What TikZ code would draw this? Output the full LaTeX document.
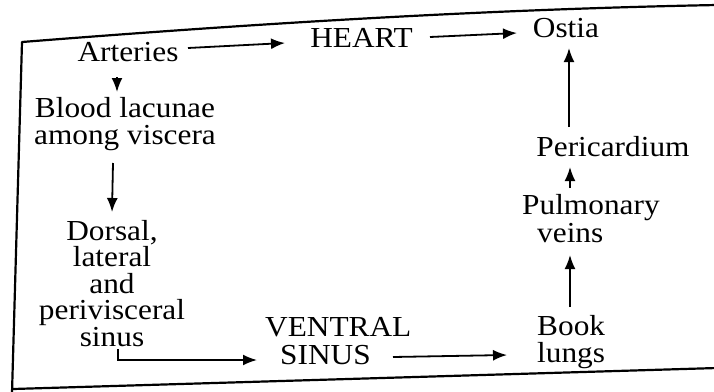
\documentclass[tikz,border=0pt]{standalone}
\usepackage{fontspec}
\setmainfont{Liberation Serif}[FakeStretch=1.08]
\usetikzlibrary{arrows.meta}
\newcommand\myfsz[1]{\fontsize{29}{#1}\selectfont\lineskiplimit=-50pt\relax}
\tikzset{
  lbl/.style={inner sep=0pt, font=\myfsz{27}},
  arr/.style={line width=1.8pt, -{Latex[length=14pt,width=11pt]}},
  frame/.style={line width=2.2pt, line cap=round, line join=round}
}
\begin{document}
\begin{tikzpicture}[x=1pt,y=-1pt]
\useasboundingbox[fill=white] (0,0) rectangle (714,391);
% frame
\draw[frame] (717,5) .. controls (450,10) and (200,28) .. (22,42) -- (12,393);
\draw[frame] (13,389) -- (717,368);
% nodes
\node[lbl] (art) at (128,52) {Arteries};
\node[lbl] (heart) at (361.5,37.5) {HEART};
\node[lbl] (ostia) at (566,28.5) {Ostia};
\node[lbl, align=center] (blood) at (125,124.5) {Blood lacunae\\among viscera};
\node[lbl, align=center, font=\myfsz{26.5}] (dorsal) at (112,283.5) {Dorsal,\\lateral\\and\\perivisceral\\sinus};
\node[lbl] (peri) at (613,147) {Pericardium};
\node[lbl, align=left, anchor=west, font=\myfsz{28}] (pulm) at (522,218.75) {Pulmonary\\\hspace*{15pt}veins};
\node[lbl, align=left, anchor=west, font=\myfsz{27}] (book) at (537,342) {Book\\lungs};
\node[lbl, align=left, anchor=west, font=\myfsz{28}] (ventral) at (265,341) {VENTRAL\\\hspace*{15pt}SINUS};
% connectors
\draw[arr] ([shift={(60,-4)}]art.center) -- ([shift={(-76.5,5.5)}]heart.center);
\draw[arr] ([shift={(68.5,-0.5)}]heart.center) -- ([shift={(-49,4.5)}]ostia.center);
\draw[arr] ([shift={(-11,25)}]art.center) -- ([shift={(-8,-32.5)}]blood.center);
\draw[arr] ([shift={(-12,38.5)}]blood.center) -- ([shift={(0,-71.5)}]dorsal.center);
\draw[arr] ([shift={(-44,-20)}]peri.center) -- ([shift={(3,19.5)}]ostia.center);
\draw[arr] ([shift={(48,-30.75)}]pulm.west) -- ([shift={(-43,20)}]peri.center);
\draw[arr] ([shift={(33,-35)}]book.west) -- ([shift={(48,36.25)}]pulm.west);
\draw[arr] ([shift={(128,16)}]ventral.west) -- ([shift={(-30,13)}]book.west);
\draw[arr] ([shift={(6,65.5)}]dorsal.center) |- ([shift={(-8,19)}]ventral.west);
\end{tikzpicture}
\end{document}
